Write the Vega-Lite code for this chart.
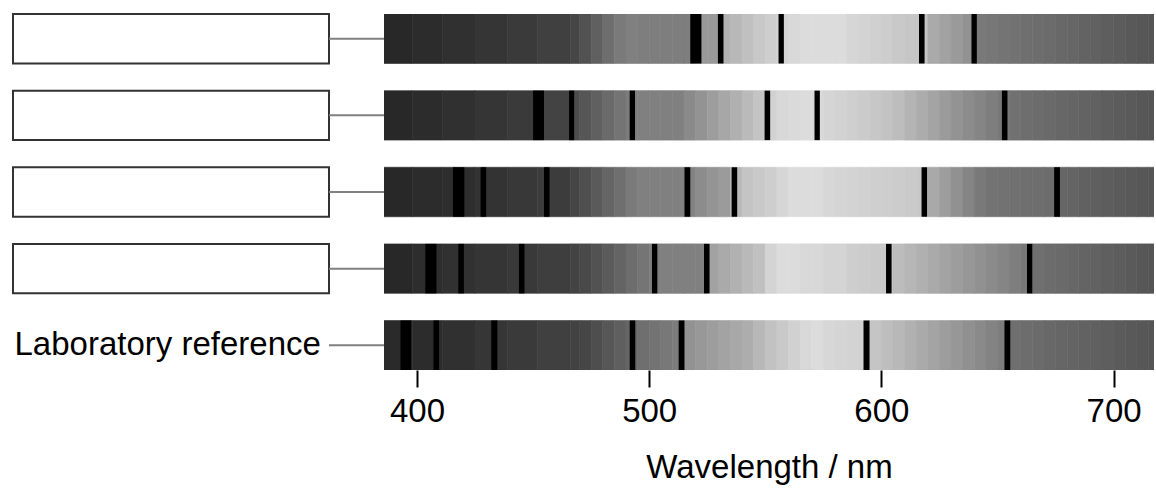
{
"$schema":"https://vega.github.io/schema/vega-lite/v6.json",
"padding":{"left":12,"top":13,"right":2,"bottom":2},
"bounds":"flush",
"spacing":0,
"config":{"view":{"stroke":null},"font":"Liberation Sans","axis":{"labelFont":"Liberation Sans","titleFont":"Liberation Sans","labelColor":"#000000","titleColor":"#000000","grid":false}},
"resolve":{"scale":{"x":"independent","y":"independent"}},
"datasets":{
"rows":[{"s":1,"name":"Spectrum 1","box":true},{"s":2,"name":"Spectrum 2","box":true},{"s":3,"name":"Spectrum 3","box":true},{"s":4,"name":"Spectrum 4","box":true},{"s":5,"name":"Laboratory reference","box":false}],
"lines":[
{"s":1,"lo":517.7,"hi":522.5},{"s":1,"lo":529.6,"hi":532.0},{"s":1,"lo":555.7,"hi":558.0},{"s":1,"lo":616.2,"hi":618.6},{"s":1,"lo":638.8,"hi":641.1},
{"s":2,"lo":450.0,"hi":454.7},{"s":2,"lo":465.5,"hi":467.7},{"s":2,"lo":491.6,"hi":493.9},{"s":2,"lo":549.7,"hi":552.1},{"s":2,"lo":571.2,"hi":573.5},{"s":2,"lo":651.9,"hi":654.3},
{"s":3,"lo":415.5,"hi":420.4},{"s":3,"lo":427.4,"hi":429.8},{"s":3,"lo":454.7,"hi":457.1},{"s":3,"lo":515.2,"hi":517.7},{"s":3,"lo":535.5,"hi":537.9},{"s":3,"lo":617.3,"hi":619.7},{"s":3,"lo":674.4,"hi":676.9},
{"s":4,"lo":403.6,"hi":408.4},{"s":4,"lo":417.8,"hi":420.2},{"s":4,"lo":443.9,"hi":446.3},{"s":4,"lo":501.2,"hi":503.5},{"s":4,"lo":523.6,"hi":526.0},{"s":4,"lo":602.0,"hi":604.4},{"s":4,"lo":662.7,"hi":665.0},
{"s":5,"lo":392.9,"hi":397.5},{"s":5,"lo":407.1,"hi":409.5},{"s":5,"lo":432.0,"hi":434.6},{"s":5,"lo":491.6,"hi":494.0},{"s":5,"lo":512.7,"hi":515.2},{"s":5,"lo":592.3,"hi":594.9},{"s":5,"lo":653.0,"hi":655.5}
],
"segs":[
{"s":1,"a":385,"b":398,"g":40},{"s":1,"a":398,"b":411,"g":44},{"s":1,"a":411,"b":425,"g":48},{"s":1,"a":425,"b":439,"g":53},{"s":1,"a":439,"b":452,"g":58},{"s":1,"a":452,"b":466,"g":64},{"s":1,"a":466,"b":470,"g":70},
{"s":1,"a":470,"b":475,"g":82},{"s":1,"a":475,"b":480,"g":96},{"s":1,"a":480,"b":485,"g":110},{"s":1,"a":485,"b":490,"g":122},{"s":1,"a":490,"b":495,"g":128},{"s":1,"a":495,"b":500,"g":126},{"s":1,"a":500,"b":505,"g":126},{"s":1,"a":505,"b":510,"g":126},{"s":1,"a":510,"b":515,"g":126},{"s":1,"a":515,"b":520,"g":126},
{"s":1,"a":520,"b":525,"g":153},{"s":1,"a":525,"b":530,"g":153},{"s":1,"a":530,"b":535,"g":177},{"s":1,"a":535,"b":540,"g":184},{"s":1,"a":540,"b":545,"g":192},{"s":1,"a":545,"b":550,"g":200},{"s":1,"a":550,"b":555,"g":206},{"s":1,"a":555,"b":560,"g":212},{"s":1,"a":560,"b":565,"g":216},{"s":1,"a":565,"b":570,"g":220},
{"s":1,"a":570,"b":575,"g":220},{"s":1,"a":575,"b":580,"g":220},{"s":1,"a":580,"b":585,"g":220},{"s":1,"a":585,"b":590,"g":214},{"s":1,"a":590,"b":595,"g":211},{"s":1,"a":595,"b":600,"g":208},{"s":1,"a":600,"b":605,"g":205},{"s":1,"a":605,"b":610,"g":201},{"s":1,"a":610,"b":615,"g":198},{"s":1,"a":615,"b":620,"g":196},
{"s":1,"a":620,"b":625,"g":170},{"s":1,"a":625,"b":630,"g":162},{"s":1,"a":630,"b":635,"g":154},{"s":1,"a":635,"b":640,"g":146},{"s":1,"a":640,"b":645,"g":121},{"s":1,"a":645,"b":650,"g":119},{"s":1,"a":650,"b":655,"g":116},{"s":1,"a":655,"b":660,"g":114},{"s":1,"a":660,"b":665,"g":111},{"s":1,"a":665,"b":670,"g":109},
{"s":1,"a":670,"b":675,"g":107},{"s":1,"a":675,"b":680,"g":104},{"s":1,"a":680,"b":685,"g":102},{"s":1,"a":685,"b":690,"g":99},{"s":1,"a":690,"b":695,"g":97},{"s":1,"a":695,"b":700,"g":94},{"s":1,"a":700,"b":705,"g":92},{"s":1,"a":705,"b":710,"g":89},{"s":1,"a":710,"b":715,"g":87},{"s":1,"a":715,"b":720,"g":85},

{"s":2,"a":385,"b":398,"g":40},{"s":2,"a":398,"b":411,"g":44},{"s":2,"a":411,"b":425,"g":48},{"s":2,"a":425,"b":439,"g":53},{"s":2,"a":439,"b":452,"g":58},{"s":2,"a":452,"b":466,"g":67},{"s":2,"a":466,"b":470,"g":77},
{"s":2,"a":470,"b":475,"g":86},{"s":2,"a":475,"b":480,"g":96},{"s":2,"a":480,"b":485,"g":106},{"s":2,"a":485,"b":490,"g":116},{"s":2,"a":490,"b":495,"g":124},{"s":2,"a":495,"b":500,"g":128},{"s":2,"a":500,"b":505,"g":128},{"s":2,"a":505,"b":510,"g":128},{"s":2,"a":510,"b":515,"g":128},{"s":2,"a":515,"b":520,"g":138},
{"s":2,"a":520,"b":525,"g":147},{"s":2,"a":525,"b":530,"g":157},{"s":2,"a":530,"b":535,"g":167},{"s":2,"a":535,"b":540,"g":176},{"s":2,"a":540,"b":545,"g":186},{"s":2,"a":545,"b":550,"g":196},{"s":2,"a":550,"b":555,"g":210},{"s":2,"a":555,"b":560,"g":216},{"s":2,"a":560,"b":565,"g":218},{"s":2,"a":565,"b":570,"g":220},
{"s":2,"a":570,"b":575,"g":218},{"s":2,"a":575,"b":580,"g":213},{"s":2,"a":580,"b":585,"g":210},{"s":2,"a":585,"b":590,"g":207},{"s":2,"a":590,"b":595,"g":203},{"s":2,"a":595,"b":600,"g":199},{"s":2,"a":600,"b":605,"g":195},{"s":2,"a":605,"b":610,"g":189},{"s":2,"a":610,"b":615,"g":180},{"s":2,"a":615,"b":620,"g":172},
{"s":2,"a":620,"b":625,"g":164},{"s":2,"a":625,"b":630,"g":155},{"s":2,"a":630,"b":635,"g":147},{"s":2,"a":635,"b":640,"g":140},{"s":2,"a":640,"b":645,"g":133},{"s":2,"a":645,"b":650,"g":126},{"s":2,"a":650,"b":655,"g":120},{"s":2,"a":655,"b":660,"g":113},{"s":2,"a":660,"b":665,"g":110},{"s":2,"a":665,"b":670,"g":108},
{"s":2,"a":670,"b":675,"g":106},{"s":2,"a":675,"b":680,"g":103},{"s":2,"a":680,"b":685,"g":101},{"s":2,"a":685,"b":690,"g":99},{"s":2,"a":690,"b":695,"g":97},{"s":2,"a":695,"b":700,"g":94},{"s":2,"a":700,"b":705,"g":92},{"s":2,"a":705,"b":710,"g":90},{"s":2,"a":710,"b":715,"g":87},{"s":2,"a":715,"b":720,"g":85},

{"s":3,"a":385,"b":398,"g":40},{"s":3,"a":398,"b":411,"g":44},{"s":3,"a":411,"b":425,"g":46},{"s":3,"a":425,"b":439,"g":51},{"s":3,"a":439,"b":452,"g":56},{"s":3,"a":452,"b":466,"g":60},{"s":3,"a":466,"b":470,"g":69},
{"s":3,"a":470,"b":475,"g":79},{"s":3,"a":475,"b":480,"g":90},{"s":3,"a":480,"b":485,"g":101},{"s":3,"a":485,"b":490,"g":111},{"s":3,"a":490,"b":495,"g":122},{"s":3,"a":495,"b":500,"g":128},{"s":3,"a":500,"b":505,"g":128},{"s":3,"a":505,"b":510,"g":128},{"s":3,"a":510,"b":515,"g":128},{"s":3,"a":515,"b":520,"g":130},
{"s":3,"a":520,"b":525,"g":140},{"s":3,"a":525,"b":530,"g":148},{"s":3,"a":530,"b":535,"g":155},{"s":3,"a":535,"b":540,"g":185},{"s":3,"a":540,"b":545,"g":196},{"s":3,"a":545,"b":550,"g":201},{"s":3,"a":550,"b":555,"g":206},{"s":3,"a":555,"b":560,"g":214},{"s":3,"a":560,"b":565,"g":220},{"s":3,"a":565,"b":570,"g":220},
{"s":3,"a":570,"b":575,"g":220},{"s":3,"a":575,"b":580,"g":215},{"s":3,"a":580,"b":585,"g":213},{"s":3,"a":585,"b":590,"g":211},{"s":3,"a":590,"b":595,"g":209},{"s":3,"a":595,"b":600,"g":207},{"s":3,"a":600,"b":605,"g":206},{"s":3,"a":605,"b":610,"g":204},{"s":3,"a":610,"b":615,"g":202},{"s":3,"a":615,"b":620,"g":200},
{"s":3,"a":620,"b":625,"g":169},{"s":3,"a":625,"b":630,"g":157},{"s":3,"a":630,"b":635,"g":145},{"s":3,"a":635,"b":640,"g":133},{"s":3,"a":640,"b":645,"g":121},{"s":3,"a":645,"b":650,"g":115},{"s":3,"a":650,"b":655,"g":114},{"s":3,"a":655,"b":660,"g":112},{"s":3,"a":660,"b":665,"g":111},{"s":3,"a":665,"b":670,"g":110},
{"s":3,"a":670,"b":675,"g":108},{"s":3,"a":675,"b":680,"g":102},{"s":3,"a":680,"b":685,"g":100},{"s":3,"a":685,"b":690,"g":97},{"s":3,"a":690,"b":695,"g":95},{"s":3,"a":695,"b":700,"g":93},{"s":3,"a":700,"b":705,"g":91},{"s":3,"a":705,"b":710,"g":89},{"s":3,"a":710,"b":715,"g":87},{"s":3,"a":715,"b":720,"g":85},

{"s":4,"a":385,"b":398,"g":40},{"s":4,"a":398,"b":411,"g":45},{"s":4,"a":411,"b":425,"g":49},{"s":4,"a":425,"b":439,"g":53},{"s":4,"a":439,"b":452,"g":57},{"s":4,"a":452,"b":466,"g":62},{"s":4,"a":466,"b":470,"g":67},
{"s":4,"a":470,"b":475,"g":73},{"s":4,"a":475,"b":480,"g":82},{"s":4,"a":480,"b":485,"g":91},{"s":4,"a":485,"b":490,"g":100},{"s":4,"a":490,"b":495,"g":109},{"s":4,"a":495,"b":500,"g":117},{"s":4,"a":500,"b":505,"g":125},{"s":4,"a":505,"b":510,"g":128},{"s":4,"a":510,"b":515,"g":128},{"s":4,"a":515,"b":520,"g":128},
{"s":4,"a":520,"b":525,"g":128},{"s":4,"a":525,"b":530,"g":162},{"s":4,"a":530,"b":535,"g":170},{"s":4,"a":535,"b":540,"g":177},{"s":4,"a":540,"b":545,"g":185},{"s":4,"a":545,"b":550,"g":192},{"s":4,"a":550,"b":555,"g":212},{"s":4,"a":555,"b":560,"g":220},{"s":4,"a":560,"b":565,"g":220},{"s":4,"a":565,"b":570,"g":216},
{"s":4,"a":570,"b":575,"g":216},{"s":4,"a":575,"b":580,"g":212},{"s":4,"a":580,"b":585,"g":212},{"s":4,"a":585,"b":590,"g":206},{"s":4,"a":590,"b":595,"g":204},{"s":4,"a":595,"b":600,"g":202},{"s":4,"a":600,"b":605,"g":200},{"s":4,"a":605,"b":610,"g":188},{"s":4,"a":610,"b":615,"g":182},{"s":4,"a":615,"b":620,"g":176},
{"s":4,"a":620,"b":625,"g":170},{"s":4,"a":625,"b":630,"g":163},{"s":4,"a":630,"b":635,"g":157},{"s":4,"a":635,"b":640,"g":151},{"s":4,"a":640,"b":645,"g":145},{"s":4,"a":645,"b":650,"g":139},{"s":4,"a":650,"b":655,"g":133},{"s":4,"a":655,"b":660,"g":126},{"s":4,"a":660,"b":665,"g":120},{"s":4,"a":665,"b":670,"g":111},
{"s":4,"a":670,"b":675,"g":108},{"s":4,"a":675,"b":680,"g":106},{"s":4,"a":680,"b":685,"g":103},{"s":4,"a":685,"b":690,"g":100},{"s":4,"a":690,"b":695,"g":98},{"s":4,"a":695,"b":700,"g":95},{"s":4,"a":700,"b":705,"g":93},{"s":4,"a":705,"b":710,"g":90},{"s":4,"a":710,"b":715,"g":87},{"s":4,"a":715,"b":720,"g":85},

{"s":5,"a":385,"b":398,"g":42},{"s":5,"a":398,"b":411,"g":44},{"s":5,"a":411,"b":425,"g":48},{"s":5,"a":425,"b":439,"g":54},{"s":5,"a":439,"b":452,"g":58},{"s":5,"a":452,"b":466,"g":64},{"s":5,"a":466,"b":470,"g":66},
{"s":5,"a":470,"b":475,"g":70},{"s":5,"a":475,"b":480,"g":78},{"s":5,"a":480,"b":485,"g":87},{"s":5,"a":485,"b":490,"g":95},{"s":5,"a":490,"b":495,"g":102},{"s":5,"a":495,"b":500,"g":111},{"s":5,"a":500,"b":505,"g":115},{"s":5,"a":505,"b":510,"g":120},{"s":5,"a":510,"b":515,"g":124},{"s":5,"a":515,"b":520,"g":146},
{"s":5,"a":520,"b":525,"g":152},{"s":5,"a":525,"b":530,"g":157},{"s":5,"a":530,"b":535,"g":163},{"s":5,"a":535,"b":540,"g":168},{"s":5,"a":540,"b":545,"g":173},{"s":5,"a":545,"b":550,"g":184},{"s":5,"a":550,"b":555,"g":194},{"s":5,"a":555,"b":560,"g":201},{"s":5,"a":560,"b":565,"g":209},{"s":5,"a":565,"b":570,"g":216},
{"s":5,"a":570,"b":575,"g":220},{"s":5,"a":575,"b":580,"g":215},{"s":5,"a":580,"b":585,"g":213},{"s":5,"a":585,"b":590,"g":211},{"s":5,"a":590,"b":595,"g":209},{"s":5,"a":595,"b":600,"g":197},{"s":5,"a":600,"b":605,"g":190},{"s":5,"a":605,"b":610,"g":184},{"s":5,"a":610,"b":615,"g":177},{"s":5,"a":615,"b":620,"g":170},
{"s":5,"a":620,"b":625,"g":164},{"s":5,"a":625,"b":630,"g":157},{"s":5,"a":630,"b":635,"g":151},{"s":5,"a":635,"b":640,"g":144},{"s":5,"a":640,"b":645,"g":138},{"s":5,"a":645,"b":650,"g":131},{"s":5,"a":650,"b":655,"g":125},{"s":5,"a":655,"b":660,"g":111},{"s":5,"a":660,"b":665,"g":109},{"s":5,"a":665,"b":670,"g":107},
{"s":5,"a":670,"b":675,"g":104},{"s":5,"a":675,"b":680,"g":102},{"s":5,"a":680,"b":685,"g":100},{"s":5,"a":685,"b":690,"g":98},{"s":5,"a":690,"b":695,"g":96},{"s":5,"a":695,"b":700,"g":94},{"s":5,"a":700,"b":705,"g":91},{"s":5,"a":705,"b":710,"g":89},{"s":5,"a":710,"b":715,"g":87},{"s":5,"a":715,"b":720,"g":85}
]
},
"hconcat":[
{
"width":316,"height":356,
"data":{"name":"rows"},
"transform":[{"filter":"datum.box"}],
"mark":{"type":"rect","fill":"#ffffff","stroke":"#333333","strokeWidth":2},
"encoding":{
"y":{"field":"name","type":"nominal",
"scale":{"domain":["Spectrum 1","Spectrum 2","Spectrum 3","Spectrum 4","Laboratory reference"],"paddingInner":0.354,"paddingOuter":0},
"axis":{"title":null,"orient":"left","ticks":false,"domain":false,"labelAlign":"left","labelPadding":-1,"labelFontSize":33,"labelLimit":600,"labelBaseline":"middle","labelExpr":"datum.value == 'Laboratory reference' ? datum.value : ''"}}
}
},
{
"width":55,"height":356,
"data":{"name":"rows"},
"mark":{"type":"rule","color":"#808080","strokeWidth":2},
"encoding":{
"y":{"field":"name","type":"nominal",
"scale":{"domain":["Spectrum 1","Spectrum 2","Spectrum 3","Spectrum 4","Laboratory reference"],"paddingInner":0.354,"paddingOuter":0},
"axis":null}
}
},
{
"width":770,"height":356,
"layer":[
{
"data":{"name":"segs"},
"mark":{"type":"rect","clip":true,"strokeWidth":0.6},
"encoding":{
"x":{"field":"a","type":"quantitative","scale":{"domain":[385.8,717.4],"nice":false,"zero":false},
"axis":{"title":"Wavelength / nm","values":[400,500,600,700],"domain":false,"tickSize":17,"tickWidth":2,"tickColor":"#000000","labelFontSize":33,"labelPadding":8,"titleFontSize":33,"titleFontWeight":"normal","titlePadding":23,"labelFlush":false}},
"x2":{"field":"b"},
"y":{"field":"s","type":"ordinal","scale":{"domain":[1,2,3,4,5],"paddingInner":0.354,"paddingOuter":0},"axis":null},
"fill":{"field":"g","type":"quantitative","scale":{"domain":[0,255],"range":["#000000","#ffffff"],"interpolate":"rgb"},"legend":null},
"stroke":{"field":"g","type":"quantitative","scale":{"domain":[0,255],"range":["#000000","#ffffff"],"interpolate":"rgb"},"legend":null}
}
},
{
"data":{"name":"lines"},
"mark":{"type":"rect","clip":true,"fill":"#000000"},
"encoding":{
"x":{"field":"lo","type":"quantitative"},
"x2":{"field":"hi"},
"y":{"field":"s","type":"ordinal","scale":{"domain":[1,2,3,4,5],"paddingInner":0.354,"paddingOuter":0},"axis":null}
}
}
]
}
]
}
